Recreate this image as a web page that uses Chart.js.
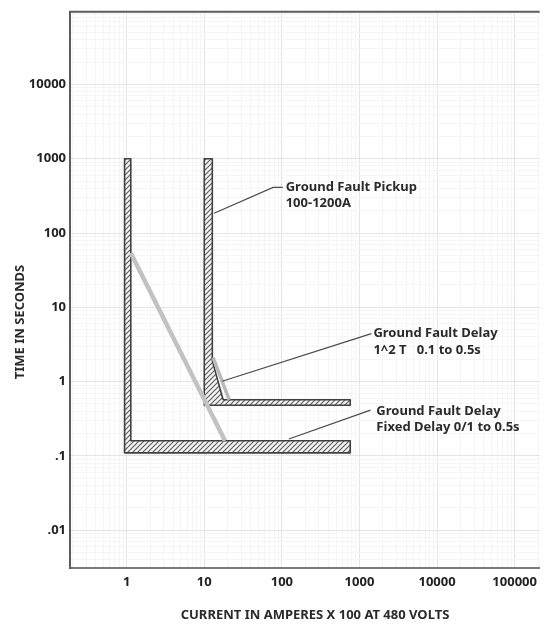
<!DOCTYPE html>
<html>
<head>
<meta charset="utf-8">
<script src="https://cdn.jsdelivr.net/npm/chart.js@4"></script>
<style>
  html, body { margin: 0; padding: 0; background: #fff; }
</style>
</head>
<body>
<canvas id="myChart" width="544" height="625"></canvas>
<script>
// D O N N E E S - - - - - - - - - - - - - - - - - - - - - - - - - - - -

// decade labels on both axes
let xTickValues = [1, 10, 100, 1000, 10000, 100000];
let xTickLabels = ["1", "10", "100", "1000", "10000", "100000"];
let yTickValues = [0.01, 0.1, 1, 10, 100, 1000, 10000];
let yTickLabels = [".01", ".1", "1", "10", "100", "1000", "10000"];

// fixed delay band (left L) : current x100 A / seconds
let fixedBandX = [0.94, 0.94, 760, 760, 1.13, 1.13, 0.94];
let fixedBandY = [1000, 0.11, 0.11, 0.16, 0.16, 1000, 1000];

// pickup + I2T band (right L)
let pickupBandX = [10, 10, 760, 760, 17.5, 12.7, 12.7, 10];
let pickupBandY = [1000, 0.48, 0.48, 0.57, 0.57, 1.9, 1000, 1000];

// grey I2T slopes
let slopeLeftX = [1.13, 18.5];
let slopeLeftY = [54, 0.16];
let slopeRightX = [13, 21];
let slopeRightY = [2.1, 0.57];

// annotations : texts, leader lines (data coords) and text anchor
let noteTexts = [
  ["Ground Fault Pickup", "100-1200A"],
  ["Ground Fault Delay", "1^2 T   0.1 to 0.5s"],
  ["Ground Fault Delay", "Fixed Delay 0/1 to 0.5s"]
];
let noteLineX = [[13.4, 77, 103], [17, 1425], [123, 1387]];
let noteLineY = [[185, 411, 411], [1.01, 4.43], [0.169, 0.413]];
let noteTextX = [112, 1513, 1652];
let noteTextY = [[411, 251], [4.43, 2.62], [0.40, 0.244]];

let xTitle = "CURRENT IN AMPERES X 100 AT 480 VOLTS";
let yTitle = "TIME IN SECONDS";

// O U T I L S - - - - - - - - - - - - - - - - - - - - - - - - - - - - - -
const FONT = '"Noto Sans", "Open Sans", sans-serif';

function zip(xs, ys) {
  return xs.map(function (x, i) { return { x: x, y: ys[i] }; });
}

function isDecade(v) {
  let l = Math.log10(v);
  return Math.abs(l - Math.round(l)) < 1e-6;
}

function logGrid(lo, hi) {                                   // 1..9 x 10^k grid lines
  let out = [];
  for (let k = lo; k <= hi; k++) {
    for (let m = 1; m < 10; m++) out.push(m * Math.pow(10, k));
  }
  return out;
}

function hatch() {                                           // motif //// des bandes
  let c = document.createElement("canvas");
  c.width = 5; c.height = 5;
  let g = c.getContext("2d");
  g.fillStyle = "#f4f4f4";
  g.fillRect(0, 0, 5, 5);
  g.strokeStyle = "#5f5f5f";
  g.lineWidth = 1.2;
  g.beginPath();
  g.moveTo(0, 5); g.lineTo(5, 0);
  g.moveTo(-1, 1); g.lineTo(1, -1);
  g.moveTo(4, 6); g.lineTo(6, 4);
  g.stroke();
  return g.createPattern(c, "repeat");
}

function labelFor(values, labels, v) {
  for (let i = 0; i < values.length; i++) {
    if (Math.abs(Math.log10(v) - Math.log10(values[i])) < 1e-6) return labels[i];
  }
  return "";
}

function gridColor(c) {
  return c.tick && isDecade(c.tick.value) ? "#e4e4e4" : "#f5f5f5";
}

// P L U G I N   :   bordure haute, titres, annotations - - - - - - - - - -
const decor = {
  id: "decor",
  afterDraw: function (chart) {
    let ctx = chart.ctx, a = chart.chartArea;
    let sx = chart.scales.x, sy = chart.scales.y;
    ctx.save();

    ctx.strokeStyle = "#5c5c5c";
    ctx.lineWidth = 2;
    ctx.beginPath();
    ctx.moveTo(a.left - 1, a.top);
    ctx.lineTo(a.right, a.top);
    ctx.stroke();

    // leader lines
    ctx.strokeStyle = "#4a4a4a";
    ctx.lineWidth = 1.2;
    noteLineX.forEach(function (xs, i) {
      ctx.beginPath();
      xs.forEach(function (x, j) {
        let px = sx.getPixelForValue(x), py = sy.getPixelForValue(noteLineY[i][j]);
        if (j === 0) ctx.moveTo(px, py); else ctx.lineTo(px, py);
      });
      ctx.stroke();
    });

    // annotation texts
    ctx.fillStyle = "#2a2a2a";
    ctx.font = "bold 13px " + FONT;
    ctx.textBaseline = "middle";
    ctx.textAlign = "left";
    noteTexts.forEach(function (lines, i) {
      lines.forEach(function (t, j) {
        ctx.fillText(t, sx.getPixelForValue(noteTextX[i]), sy.getPixelForValue(noteTextY[i][j]));
      });
    });

    // axis titles
    ctx.textAlign = "center";
    ctx.fillText(xTitle, 315, 615);
    ctx.translate(20, 322);
    ctx.rotate(-Math.PI / 2);
    ctx.fillText(yTitle, 0, 0);
    ctx.restore();
  }
};

// G R A P H I Q U E - - - - - - - - - - - - - - - - - - - - - - - - - - -
let canvas = document.querySelector("#myChart");
let pattern = hatch();

new Chart(canvas, {
  type: "scatter",
  data: {
    datasets: [
      { data: zip(slopeRightX, slopeRightY), showLine: true, borderColor: "#b9b9b9", borderWidth: 3.5, pointRadius: 0, fill: false },
      { data: zip(slopeLeftX, slopeLeftY), showLine: true, borderColor: "#c2c2c2", borderWidth: 4.5, pointRadius: 0, fill: false },
      { data: zip(pickupBandX, pickupBandY), showLine: true, borderColor: "#404040", borderWidth: 1.6,
        borderJoinStyle: "round", pointRadius: 0, fill: "shape", backgroundColor: pattern },
      { data: zip(fixedBandX, fixedBandY), showLine: true, borderColor: "#404040", borderWidth: 1.6,
        borderJoinStyle: "round", pointRadius: 0, fill: "shape", backgroundColor: pattern }
    ]
  },
  options: {
    responsive: false,
    animation: false,
    events: [],
    layout: { padding: { top: 10, left: 0, right: 0, bottom: 0 } },
    plugins: { legend: { display: false }, tooltip: { enabled: false } },
    scales: {
      x: {
        type: "logarithmic",
        min: 0.186,
        max: 210000,
        afterBuildTicks: function (s) { s.ticks = logGrid(-1, 5).filter(function (v) { return v >= 0.186 && v <= 210000; }).map(function (v) { return { value: v }; }); },
        afterFit: function (s) { s.height = 57; },
        grid: { drawTicks: false, color: gridColor },
        border: { color: "#7a7a7a", width: 2 },
        ticks: {
          autoSkip: false, maxRotation: 0, padding: 6, color: "#222",
          font: { family: FONT, size: 13, weight: "bold" },
          callback: function (v) { return labelFor(xTickValues, xTickLabels, v); }
        }
      },
      y: {
        type: "logarithmic",
        min: 0.0031,
        max: 95000,
        afterBuildTicks: function (s) { s.ticks = logGrid(-3, 4).filter(function (v) { return v >= 0.0031 && v <= 95000; }).map(function (v) { return { value: v }; }); },
        afterFit: function (s) { s.width = 70; },
        grid: { drawTicks: false, color: gridColor },
        border: { color: "#5c5c5c", width: 2 },
        ticks: {
          autoSkip: false, padding: 4, color: "#222",
          font: { family: FONT, size: 13, weight: "bold" },
          callback: function (v) { return labelFor(yTickValues, yTickLabels, v); }
        }
      }
    }
  },
  plugins: [decor]
});
</script>
</body>
</html>
